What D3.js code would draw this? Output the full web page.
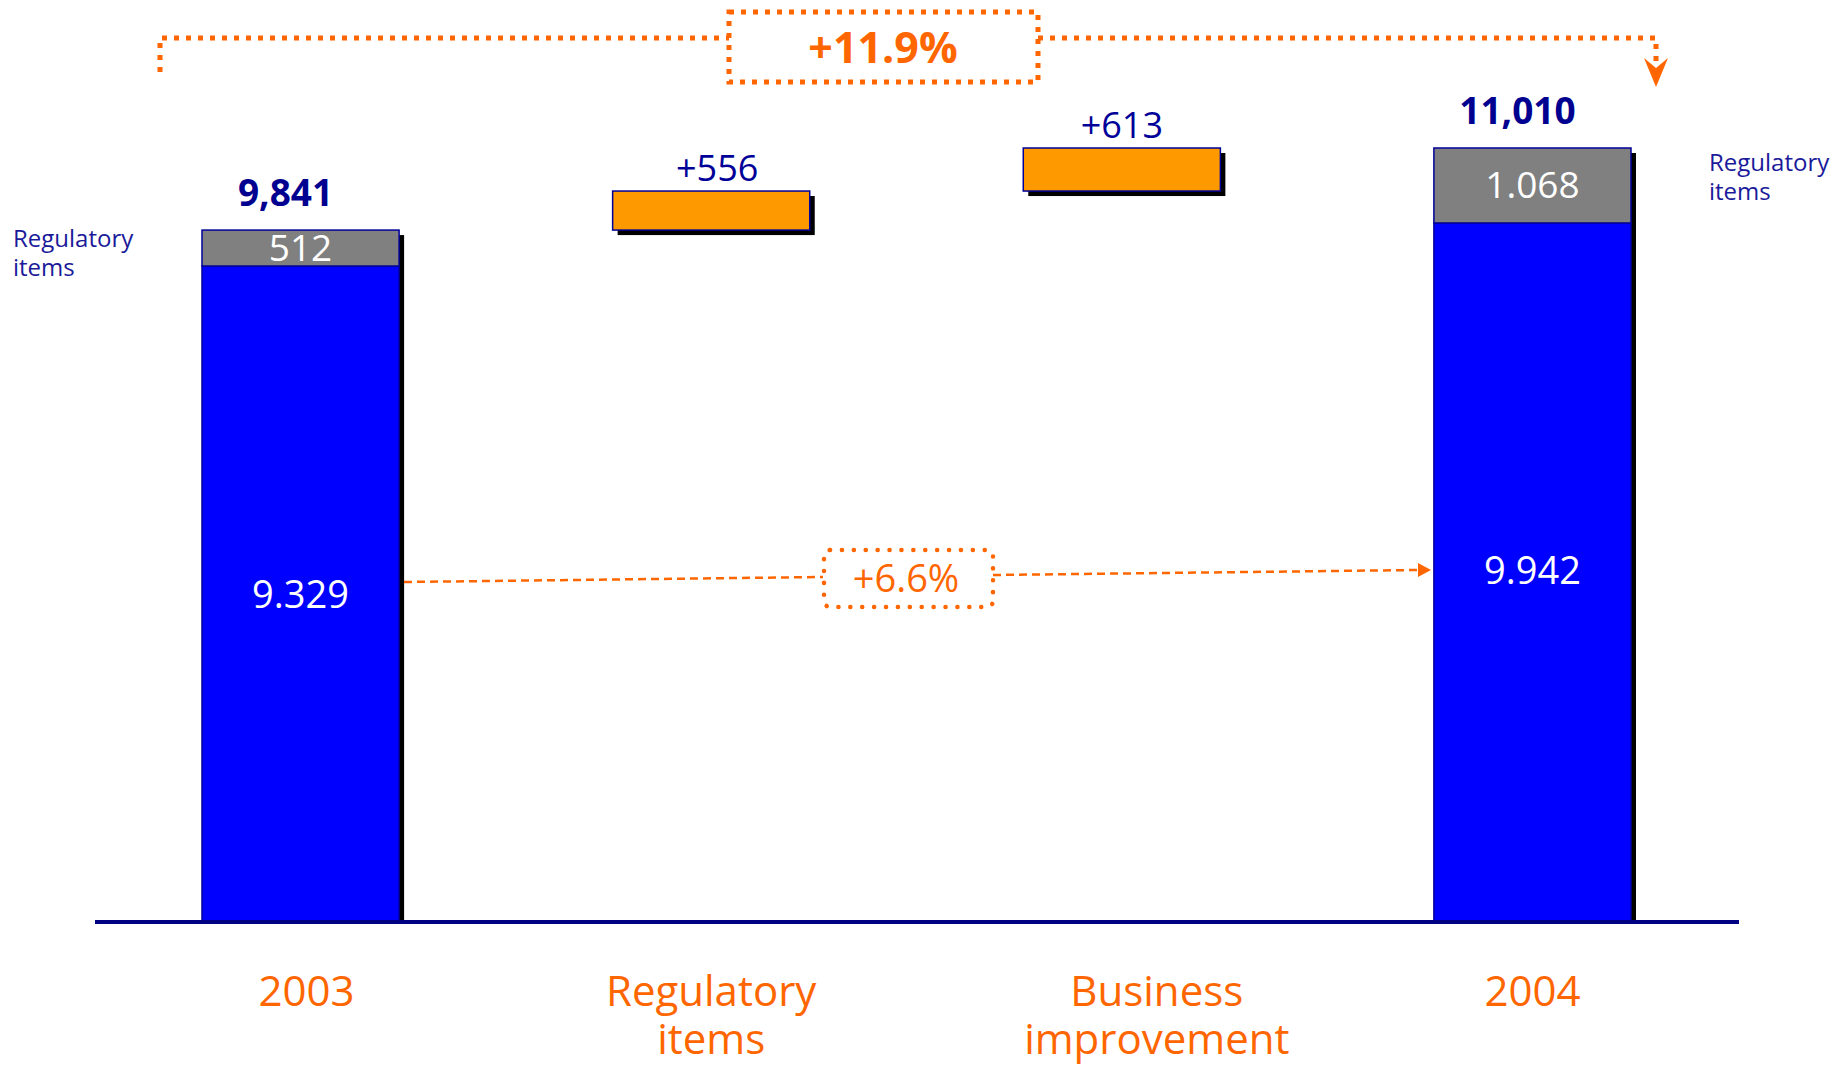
<!DOCTYPE html>
<html>
<head>
<meta charset="utf-8">
<script src="https://cdn.jsdelivr.net/npm/d3@7"></script>
<style>
  html, body { margin: 0; padding: 0; background: #ffffff; }
  svg { display: block; font-family: "Open Sans", "DejaVu Sans", sans-serif; }
</style>
</head>
<body>
<svg id="chart" width="1847" height="1067"></svg>
<script>
// ---- data ----
const categories = ["2003", "Regulatory items", "Business improvement", "2004"];
const barKinds = ["total", "delta", "delta", "total"];
const underlyingValues = [9329, 0, 0, 9942];
const regulatoryValues = [512, 0, 0, 1068];
const deltaValues = [0, 556, 613, 0];
const topLabels = ["9,841", "+556", "+613", "11,010"];
const underlyingLabels = ["9.329", "", "", "9.942"];
const regulatoryLabels = ["512", "", "", "1.068"];
const sideLabel = ["Regulatory", "items"];
const growthLabels = ["+11.9%", "+6.6%"];

// ---- layout ----
const svg = d3.select("#chart");
const baseY = 921;
const x = d3.scaleBand().domain(categories).range([202, 1631]).paddingInner(0.52).paddingOuter(0);
const yMax = underlyingValues[3] + regulatoryValues[3];
const y = d3.scaleLinear().domain([0, yMax]).range([baseY, 148]);

const NAVY = "#000099";
const ORANGE_LINE = "#ff6600";

// build waterfall rows
let running = 0;
const rows = categories.map((c, i) => {
  let r;
  if (barKinds[i] === "total") {
    const total = underlyingValues[i] + regulatoryValues[i];
    r = { c, i, kind: "total", u: underlyingValues[i], g: regulatoryValues[i], start: 0, end: total };
    running = total;
  } else {
    r = { c, i, kind: "delta", start: running, end: running + deltaValues[i] };
    running += deltaValues[i];
  }
  return r;
});

const sh = 5; // shadow offset

// shadows
rows.forEach(r => {
  const top = y(r.end);
  const bottom = r.kind === "total" ? baseY : y(r.start) + sh;
  svg.append("rect")
    .attr("x", x(r.c) + sh).attr("y", top + sh)
    .attr("width", x.bandwidth()).attr("height", Math.max(0, bottom - top - sh))
    .attr("fill", "#000000");
});

// bars
rows.forEach(r => {
  if (r.kind === "total") {
    svg.append("rect")
      .attr("x", x(r.c)).attr("y", y(r.u))
      .attr("width", x.bandwidth()).attr("height", y(0) - y(r.u))
      .attr("fill", "#0000ff").attr("stroke", NAVY).attr("stroke-width", 1.5);
    svg.append("rect")
      .attr("x", x(r.c)).attr("y", y(r.end))
      .attr("width", x.bandwidth()).attr("height", y(r.u) - y(r.end))
      .attr("fill", "#808080").attr("stroke", NAVY).attr("stroke-width", 1.5);
  } else {
    svg.append("rect")
      .attr("x", x(r.c)).attr("y", y(r.end))
      .attr("width", x.bandwidth()).attr("height", y(r.start) - y(r.end))
      .attr("fill", "#ff9900").attr("stroke", NAVY).attr("stroke-width", 1.5);
  }
});

// baseline
svg.append("line")
  .attr("x1", 95).attr("x2", 1739).attr("y1", baseY + 1).attr("y2", baseY + 1)
  .attr("stroke", "#000080").attr("stroke-width", 4);

// top labels
rows.forEach(r => {
  const cx = x(r.c) + x.bandwidth() / 2;
  if (r.kind === "total") {
    svg.append("text")
      .attr("x", cx - 15).attr("y", y(r.end) - 24)
      .attr("text-anchor", "middle")
      .attr("font-size", 37).attr("font-weight", "bold")
      .attr("fill", "#000090")
      .text(topLabels[r.i]);
    svg.append("text")
      .attr("x", cx).attr("y", (y(r.end) + y(r.u)) / 2 + 13)
      .attr("text-anchor", "middle").attr("font-size", 37)
      .attr("fill", "#ffffff")
      .text(regulatoryLabels[r.i]);
    svg.append("text")
      .attr("x", cx).attr("y", r.i === 0 ? 608 : 584)
      .attr("text-anchor", "middle").attr("font-size", 38)
      .attr("fill", "#ffffff")
      .text(underlyingLabels[r.i]);
  } else {
    svg.append("text")
      .attr("x", cx + (r.i === 1 ? 6 : 0)).attr("y", y(r.end) - 10)
      .attr("text-anchor", "middle")
      .attr("font-size", 36)
      .attr("fill", NAVY)
      .text(topLabels[r.i]);
  }
});

// side "Regulatory items" labels (one text per line)
[[0, 13, -1], [3, 1709, -14]].forEach(([i, lx, dy]) => {
  const r = rows[i];
  const mid = (y(r.end) + y(r.u)) / 2;
  sideLabel.forEach((s, k) => {
    svg.append("text")
      .attr("x", lx).attr("y", mid + dy + k * 29)
      .attr("font-size", 24).attr("fill", "#1a1a9a")
      .text(s);
  });
});

// category labels (one text per line)
const catOffsets = [6, 0, 35, 0];
categories.forEach((c, i) => {
  const cx = x(c) + x.bandwidth() / 2 + catOffsets[i];
  c.split(" ").forEach((w, k) => {
    svg.append("text")
      .attr("x", cx).attr("y", 1006 + k * 48)
      .attr("text-anchor", "middle")
      .attr("font-size", 42).attr("fill", ORANGE_LINE)
      .text(w);
  });
});

// ---- top bracket (+11.9%) ----
const topDots = { stroke: ORANGE_LINE, "stroke-width": 5, "stroke-dasharray": "5,7", fill: "none" };
function applyAttrs(sel, attrs) { Object.entries(attrs).forEach(([k, v]) => sel.attr(k, v)); return sel; }

applyAttrs(svg.append("path").attr("d", "M160,72 L160,38 L729,38"), topDots);
applyAttrs(svg.append("path").attr("d", "M1038,38 L1656,38 L1656,66"), topDots);
applyAttrs(svg.append("rect").attr("x", 729).attr("y", 12).attr("width", 309).attr("height", 70), topDots);
// arrow head
svg.append("path")
  .attr("d", "M1644,58 L1656,87 L1668,58 L1656,68 Z")
  .attr("fill", ORANGE_LINE);
svg.append("text")
  .attr("x", 883).attr("y", 63)
  .attr("text-anchor", "middle")
  .attr("font-size", 43).attr("font-weight", "bold")
  .attr("fill", ORANGE_LINE)
  .text(growthLabels[0]);

// ---- middle (+6.6%) ----
const dash = { stroke: ORANGE_LINE, "stroke-width": 2.5, "stroke-dasharray": "8,5", fill: "none" };
applyAttrs(svg.append("line").attr("x1", 404).attr("y1", 582).attr("x2", 823).attr("y2", 577), dash);
applyAttrs(svg.append("line").attr("x1", 993).attr("y1", 575).attr("x2", 1418).attr("y2", 570), dash);
svg.append("path")
  .attr("d", "M1418,563 L1431,570 L1418,577 Z")
  .attr("fill", ORANGE_LINE);
svg.append("rect")
  .attr("x", 824).attr("y", 550).attr("width", 169).attr("height", 57).attr("rx", 6)
  .attr("fill", "#ffffff").attr("stroke", ORANGE_LINE).attr("stroke-width", 4.5)
  .attr("stroke-dasharray", "0.1,11.8").attr("stroke-linecap", "round");
svg.append("text")
  .attr("x", 906).attr("y", 592)
  .attr("text-anchor", "middle")
  .attr("font-size", 38)
  .attr("fill", ORANGE_LINE)
  .text(growthLabels[1]);
</script>
</body>
</html>
